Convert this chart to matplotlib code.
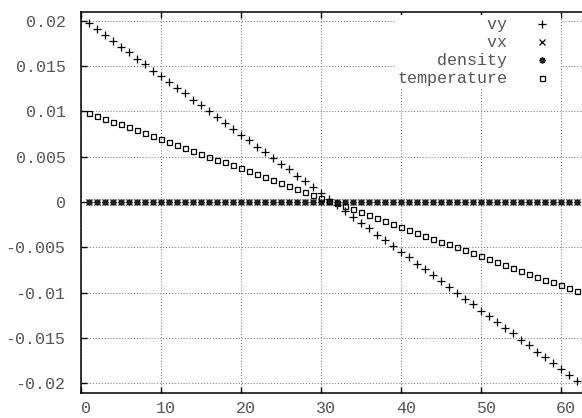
import numpy as np
import matplotlib
matplotlib.use("Agg")
import matplotlib.pyplot as plt
from matplotlib import transforms

# data (one point per grid cell, x = 1..62)
x = np.arange(1, 63)

vy = [0.0197, 0.0191, 0.0184, 0.0178, 0.0171, 0.0165, 0.0158, 0.0152, 0.0145, 0.0139,
      0.0132, 0.0126, 0.0120, 0.0113, 0.0107, 0.0100, 0.0094, 0.0087, 0.0081, 0.0074,
      0.0068, 0.0061, 0.0055, 0.0048, 0.0042, 0.0036, 0.0029, 0.0023, 0.0016, 0.0010,
      0.0003, -0.0003, -0.0010, -0.0016, -0.0023, -0.0029, -0.0036, -0.0042, -0.0048, -0.0055,
      -0.0061, -0.0068, -0.0074, -0.0081, -0.0087, -0.0094, -0.0100, -0.0107, -0.0113, -0.0120,
      -0.0126, -0.0132, -0.0139, -0.0145, -0.0152, -0.0158, -0.0165, -0.0171, -0.0178, -0.0184,
      -0.0191, -0.0197]

vx = [0.0] * 62
density = [0.0] * 62

temperature = [0.00985, 0.00953, 0.00920, 0.00888, 0.00856, 0.00824, 0.00791, 0.00759, 0.00727, 0.00694,
               0.00662, 0.00630, 0.00598, 0.00565, 0.00533, 0.00501, 0.00468, 0.00436, 0.00404, 0.00372,
               0.00339, 0.00307, 0.00275, 0.00242, 0.00210, 0.00178, 0.00145, 0.00113, 0.00081, 0.00048,
               0.00016, -0.00016, -0.00048, -0.00081, -0.00113, -0.00145, -0.00178, -0.00210, -0.00242, -0.00275,
               -0.00307, -0.00339, -0.00372, -0.00404, -0.00436, -0.00468, -0.00501, -0.00533, -0.00565, -0.00598,
               -0.00630, -0.00662, -0.00694, -0.00727, -0.00759, -0.00791, -0.00824, -0.00856, -0.00888, -0.00920,
               -0.00953, -0.00985]

labels = ["vy", "vx", "density", "temperature"]
xticks = [0, 10, 20, 30, 40, 50, 60]
yticks = [-0.02, -0.015, -0.01, -0.005, 0, 0.005, 0.01, 0.015, 0.02]
ytick_labels = ["-0.02", "-0.015", "-0.01", "-0.005", "0", "0.005", "0.01", "0.015", "0.02"]

plt.rcParams['font.family'] = ['Liberation Mono', 'DejaVu Sans Mono']
plt.rcParams['font.size'] = 12
txt_color = '#555555'

fig = plt.figure(figsize=(5.82, 4.18), dpi=100)
# axes runs past the right edge of the image, like the cropped original
ax = fig.add_axes([81 / 582, 25 / 418, 512 / 582, 381 / 418])

w = max(len(s) for s in labels)
ax.plot(x, vy, ls='none', marker='+', ms=5.2, mew=0.9, color='black', label=labels[0].rjust(w))
ax.plot(x, vx, ls='none', marker='x', ms=4.2, mew=0.9, color='black', label=labels[1].rjust(w))
ax.plot(x, density, ls='none', marker=(8, 2, 0), ms=4.2, mew=1.3, color='#202020', label=labels[2].rjust(w))
ax.plot(x, temperature, ls='none', marker='s', ms=3.6, mew=0.9, mfc='none', color='black',
        label=labels[3].rjust(w))

ax.set_xlim(0, 64)
ax.set_ylim(-0.02107, 0.02096)
ax.set_xticks(xticks)
ax.set_yticks(yticks)
ax.set_yticklabels(ytick_labels)

ax.grid(True, color='#707070', ls=(0, (1, 2)), lw=0.7)
ax.tick_params(direction='in', length=4, width=1, top=True, right=False,
               colors='black', labelcolor=txt_color)
ax.tick_params(axis='y', pad=11)
ax.tick_params(axis='x', pad=6)
for sp in ax.spines.values():
    sp.set_linewidth(1.1)

# gnuplot puts the x labels a few pixels right of the ticks
off = transforms.ScaledTranslation(5 / 100, 0, fig.dpi_scale_trans)
for lab in ax.get_xticklabels():
    lab.set_transform(lab.get_transform() + off)

leg = ax.legend(loc='upper right', bbox_to_anchor=(0.944, 1.0), markerfirst=False,
                frameon=True, fancybox=False, facecolor='white', edgecolor='none',
                framealpha=1.0, handlelength=2.0, handletextpad=1.1, labelspacing=0.18,
                borderpad=0.15, borderaxespad=0.18, numpoints=1)
for t in leg.get_texts():
    t.set_color(txt_color)

fig.savefig("out.png", dpi=100)
